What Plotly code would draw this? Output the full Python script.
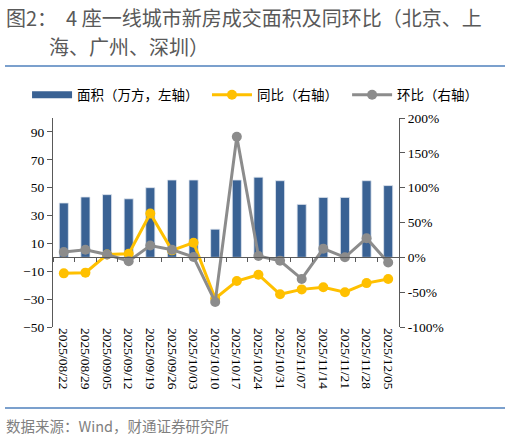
import plotly.graph_objects as go

dates = ["2025/08/22", "2025/08/29", "2025/09/05", "2025/09/12", "2025/09/19", "2025/09/26",
         "2025/10/03", "2025/10/10", "2025/10/17", "2025/10/24", "2025/10/31", "2025/11/07",
         "2025/11/14", "2025/11/21", "2025/11/28", "2025/12/05"]
area = [39, 43.3, 45, 42, 50, 55.5, 55.5, 20.2, 55.5, 57.5, 55, 38, 43, 43, 55, 51.5]
yoy = [-23, -22, 4, 5, 63, 10, 21, -59, -34, -25, -53, -46, -43, -50, -37, -31]
mom = [7.5, 11, 4, -5.5, 17, 11, 0.5, -64, 173, 2, -5, -31, 12.5, 0, 27.5, -7.5]

left_ticks = [-50, -30, -10, 10, 30, 50, 70, 90]
right_ticks = [-100, -50, 0, 50, 100, 150, 200]
right_labels = [f"{v}%" for v in right_ticks]

BLUE = "#3A6294"
YELLOW = "#FFC000"
GRAY = "#8C8C8C"
AXIS = "#595959"
CJK = "Noto Sans CJK SC"
SERIF = "Times New Roman, Liberation Serif, serif"

fig = go.Figure()

fig.add_trace(go.Bar(
    x=dates, y=area, xaxis="x", yaxis="y",
    marker=dict(color=BLUE, line=dict(color="#dfe6ef", width=0.8)),
    showlegend=False, hoverinfo="skip",
))
fig.add_trace(go.Scatter(
    x=[None], y=[None], mode="lines", name="面积（万方，左轴）",
    line=dict(color=BLUE, width=7), xaxis="x", yaxis="y", legend="legend",
))
fig.add_trace(go.Scatter(
    x=dates, y=yoy, mode="lines+markers", name="同比（右轴）",
    line=dict(color=YELLOW, width=3), marker=dict(color=YELLOW, size=10),
    xaxis="x2", yaxis="y2", legend="legend2",
))
fig.add_trace(go.Scatter(
    x=dates, y=mom, mode="lines+markers", name="环比（右轴）",
    line=dict(color=GRAY, width=3), marker=dict(color=GRAY, size=10),
    xaxis="x2", yaxis="y2", legend="legend3",
))

rng = [-0.5, len(dates) - 0.5]
leg_common = dict(orientation="h", y=1.11, xanchor="left", yanchor="middle",
                  font=dict(family=CJK, size=13.5, color="#000"), itemwidth=40,
                  bgcolor="rgba(0,0,0,0)")
fig.update_layout(
    width=510, height=439,
    margin=dict(l=53, r=111, t=118, b=112),
    paper_bgcolor="white", plot_bgcolor="white",
    bargap=0.58,
    font=dict(family=SERIF, size=13.5, color="#000000"),
    xaxis=dict(
        type="category", range=rng, showline=False, ticks="", showgrid=False,
        tickangle=90, tickfont=dict(family=SERIF, size=13.5, color="#000"),
        categoryorder="array", categoryarray=dates,
    ),
    xaxis2=dict(
        type="category", range=rng, overlaying="x", anchor="free", position=1/3,
        side="bottom", showline=True, linecolor=AXIS, linewidth=1,
        ticks="outside", ticklen=4, tickcolor=AXIS, tickson="boundaries",
        showticklabels=False, showgrid=False,
        categoryorder="array", categoryarray=dates,
    ),
    yaxis=dict(
        range=[-50, 100], tickvals=left_ticks, showgrid=False, zeroline=False,
        showline=True, linecolor=AXIS, linewidth=1, ticks="outside", ticklen=5,
        tickcolor=AXIS, tickfont=dict(family=SERIF, size=13.5, color="#000"),
    ),
    yaxis2=dict(
        range=[-100, 200], tickvals=right_ticks, ticktext=right_labels, overlaying="y",
        side="right", anchor="x2", showgrid=False, zeroline=False,
        showline=True, linecolor=AXIS, linewidth=1, ticks="outside", ticklen=5,
        tickcolor=AXIS, tickfont=dict(family=SERIF, size=13.5, color="#000"),
    ),
    legend=dict(x=-0.075, **leg_common),
    legend2=dict(x=0.445, **leg_common),
    legend3=dict(x=0.850, **leg_common),
)

def px_x(p):
    return (p - 53) / 346

def px_y(p):
    return (327 - p) / 209

annos = [
    dict(text="图2：  4 座一线城市新房成交面积及同环比（北京、上", x=px_x(4), y=px_y(18),
         size=20, color="#595959"),
    dict(text="海、广州、深圳）", x=px_x(47), y=px_y(46), size=20, color="#595959"),
    dict(text="数据来源：Wind，财通证券研究所", x=px_x(4), y=px_y(425), size=14.5, color="#7f7f7f"),
]
for a in annos:
    fig.add_annotation(text=a["text"], x=a["x"], y=a["y"], xref="paper", yref="paper",
                       xanchor="left", yanchor="middle", showarrow=False,
                       font=dict(family=CJK, size=a["size"], color=a["color"]))

for yy in [66, 408]:
    fig.add_shape(type="line", xref="paper", yref="paper", x0=px_x(5), x1=px_x(505),
                  y0=px_y(yy), y1=px_y(yy), line=dict(color="#4F81BD", width=1.5))

fig.write_html("out.html")
